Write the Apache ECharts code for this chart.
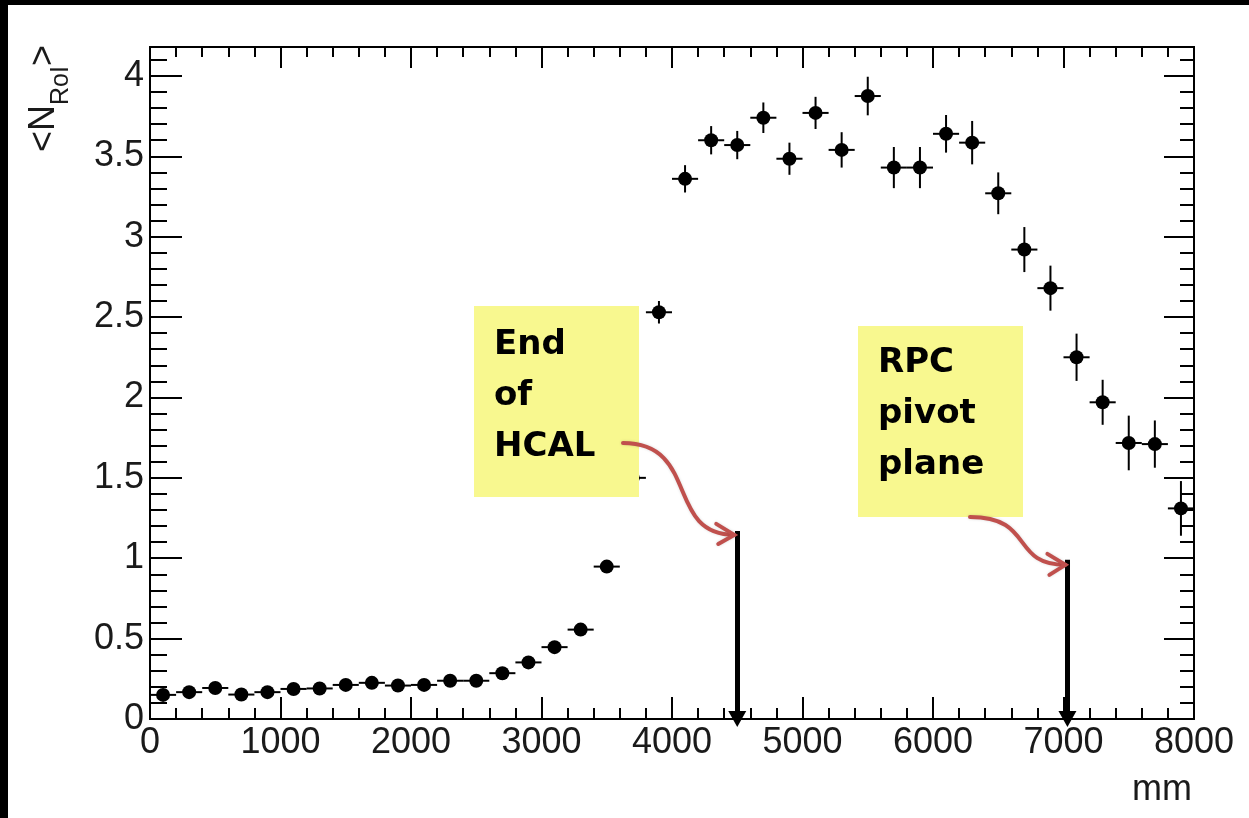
<!DOCTYPE html>
<html>
<head>
<meta charset="utf-8">
<script src="https://cdn.jsdelivr.net/npm/echarts@6/dist/echarts.min.js"></script>
<style>
  html, body { margin: 0; padding: 0; background: #fff; }
  #chart { width: 1249px; height: 818px; }
</style>
</head>
<body>
<div id="chart"></div>
<script>
// Mean number of RoIs versus depth (mm), 200 mm bins
const binCentres = [100, 300, 500, 700, 900, 1100, 1300, 1500, 1700, 1900,
                    2100, 2300, 2500, 2700, 2900, 3100, 3300, 3500, 3700, 3900,
                    4100, 4300, 4500, 4700, 4900, 5100, 5300, 5500, 5700, 5900,
                    6100, 6300, 6500, 6700, 6900, 7100, 7300, 7500, 7700, 7900];
const meanNRoI = [0.150, 0.167, 0.193, 0.152, 0.167, 0.187, 0.190, 0.212, 0.225, 0.208,
                  0.212, 0.238, 0.238, 0.285, 0.352, 0.447, 0.556, 0.948, 1.50, 2.53,
                  3.36, 3.60, 3.57, 3.74, 3.485, 3.77, 3.54, 3.875, 3.43, 3.43,
                  3.64, 3.585, 3.27, 2.92, 2.68, 2.25, 1.97, 1.717, 1.71, 1.31];
const meanErr = [0.02, 0.02, 0.02, 0.02, 0.02, 0.02, 0.02, 0.02, 0.02, 0.02,
                 0.02, 0.02, 0.02, 0.02, 0.025, 0.03, 0.03, 0.04, 0.05, 0.07,
                 0.085, 0.088, 0.088, 0.095, 0.10, 0.10, 0.11, 0.12, 0.128, 0.128,
                 0.117, 0.135, 0.13, 0.14, 0.14, 0.147, 0.14, 0.17, 0.147, 0.17];
const binHalfWidth = 100;

// Detector landmarks marked with arrows down to the axis
const landmarkX = [4500, 7030];
const landmarkTop = [1.17, 0.99];
const noteTexts = ['End\nof\nHCAL', 'RPC\npivot\nplane'];

const xTickLabels = ['0', '1000', '2000', '3000', '4000', '5000', '6000', '7000', '8000'];
const yTickLabels = ['0', '0.5', '1', '1.5', '2', '2.5', '3', '3.5', '4'];

const points = binCentres.map((x, i) => [x, meanNRoI[i], meanErr[i]]);

const FONT = '"Liberation Sans", Arial, Helvetica, sans-serif';
const INK = '#000';
const LABEL = '#1a1a1a';

function isMajor(v, step) {
  return Math.abs(v / step - Math.round(v / step)) < 1e-6;
}

function xAxisCfg(pos, major, minor, labels) {
  return {
    type: 'value', position: pos, min: 0, max: 8000, interval: 1000,
    axisLine: { show: true, onZero: false, lineStyle: { color: INK, width: 2 } },
    axisTick: { show: true, inside: true, length: major, lineStyle: { color: INK, width: 2 } },
    minorTick: { show: true, splitNumber: 5, length: minor, lineStyle: { color: INK, width: 2 } },
    splitLine: { show: false },
    axisLabel: labels ? {
      show: true, margin: 6, fontSize: 36, color: LABEL, fontFamily: FONT,
      formatter: v => xTickLabels[Math.round(v / 1000)] ?? ''
    } : { show: false }
  };
}

function yAxisCfg(pos, step, len, labels) {
  return {
    type: 'value', position: pos, min: 0, max: 4.18, interval: step,
    axisLine: { show: true, onZero: false, lineStyle: { color: INK, width: 2 } },
    axisTick: { show: true, inside: true, length: len, lineStyle: { color: INK, width: 2 } },
    splitLine: { show: false },
    axisLabel: labels ? {
      show: true, margin: 6, fontSize: 36, color: LABEL, fontFamily: FONT,
      formatter: v => isMajor(v, 0.5) ? (yTickLabels[Math.round(v / 0.5)] ?? '') : ''
    } : { show: false }
  };
}

const chart = echarts.init(document.getElementById('chart'), null, { renderer: 'canvas' });

const option = {
  animation: false,
  backgroundColor: '#fff',
  grid: { left: 150, right: 55, top: 47, bottom: 99, containLabel: false, outerBoundsMode: 'none' },
  xAxis: [
    xAxisCfg('bottom', 22, 11, true),
    xAxisCfg('top', 21, 10, false)
  ],
  yAxis: [
    yAxisCfg('left', 0.5, 32, true),
    yAxisCfg('left', 0.1, 17, false),
    yAxisCfg('right', 0.5, 30, false),
    yAxisCfg('right', 0.1, 14, false)
  ],
  series: [
    {
      // error bars: bin width in x, statistical error in y
      type: 'custom',
      xAxisIndex: 0, yAxisIndex: 0,
      encode: { x: 0, y: 1 },
      data: points,
      z: 3,
      renderItem: function (params, api) {
        const x = api.value(0), y = api.value(1), ey = api.value(2);
        const l = api.coord([x - binHalfWidth, y]);
        const r = api.coord([x + binHalfWidth, y]);
        const lo = api.coord([x, Math.max(0, y - ey)]);
        const hi = api.coord([x, y + ey]);
        const st = { stroke: INK, lineWidth: 2 };
        return {
          type: 'group',
          children: [
            { type: 'line', shape: { x1: l[0], y1: l[1], x2: r[0], y2: r[1] }, style: st },
            { type: 'line', shape: { x1: lo[0], y1: lo[1], x2: hi[0], y2: hi[1] }, style: st }
          ]
        };
      }
    },
    {
      type: 'scatter',
      xAxisIndex: 0, yAxisIndex: 0,
      data: points.map(p => [p[0], p[1]]),
      symbol: 'circle',
      symbolSize: 14,
      itemStyle: { color: INK, opacity: 1 },
      z: 4,
      markLine: {
        silent: true,
        symbol: ['none', 'triangle'],
        symbolSize: [18, 16],
        label: { show: false },
        lineStyle: { color: INK, width: 5, type: 'solid', opacity: 1 },
        data: landmarkX.map((x, i) => [
          { coord: [x, landmarkTop[i]] },
          { coord: [x, 0] }
        ])
      }
    }
  ]
};

chart.setOption(option);

// Annotations: sticky notes with curved pointers to the landmark arrows
function pointerGraphics() {
  const tip1 = chart.convertToPixel({ xAxisIndex: 0, yAxisIndex: 0 }, [landmarkX[0], landmarkTop[0]]);
  const tip2 = chart.convertToPixel({ xAxisIndex: 0, yAxisIndex: 0 }, [landmarkX[1], landmarkTop[1]]);
  const red = '#c0504d';
  const curveStyle = { stroke: red, lineWidth: 4, fill: null, lineCap: 'round',
                       shadowColor: 'rgba(0,0,0,0.15)', shadowBlur: 3 };
  const e1 = [tip1[0] - 3, tip1[1] + 4];
  const e2 = [tip2[0] - 2, tip2[1] + 5];
  return [
    { type: 'bezierCurve', z: 120,
      shape: { x1: 623, y1: 443, cpx1: 700, cpy1: 443, cpx2: 665, cpy2: e1[1], x2: e1[0], y2: e1[1] },
      style: curveStyle },
    { type: 'polyline', z: 120,
      shape: { points: [[e1[0] - 18, e1[1] - 11], e1, [e1[0] - 16, e1[1] + 9]] },
      style: curveStyle },
    { type: 'bezierCurve', z: 120,
      shape: { x1: 970, y1: 517, cpx1: 1035, cpy1: 517, cpx2: 1010, cpy2: e2[1], x2: e2[0], y2: e2[1] },
      style: curveStyle },
    { type: 'polyline', z: 120,
      shape: { points: [[e2[0] - 18, e2[1] - 11], e2, [e2[0] - 16, e2[1] + 10]] },
      style: curveStyle }
  ];
}

const noteFont = 'bold 34px "Comic Sans MS", "DejaVu Sans", sans-serif';

chart.setOption({
  graphic: [
    // slide frame edges
    { type: 'rect', z: 200, shape: { x: 0, y: 0, width: 1249, height: 5 }, style: { fill: '#000' } },
    { type: 'rect', z: 200, shape: { x: 0, y: 0, width: 8, height: 818 }, style: { fill: '#000' } },

    // y-axis title <N_RoI>, reading bottom to top
    { type: 'text', z: 50, x: 44, y: 152, rotation: Math.PI / 2,
      style: { text: '<N', font: '36px ' + FONT, fill: LABEL, align: 'left', verticalAlign: 'middle' } },
    { type: 'text', z: 50, x: 61, y: 105, rotation: Math.PI / 2,
      style: { text: 'RoI', font: '25px ' + FONT, fill: LABEL, align: 'left', verticalAlign: 'middle' } },
    { type: 'text', z: 50, x: 44, y: 66, rotation: Math.PI / 2,
      style: { text: '>', font: '36px ' + FONT, fill: LABEL, align: 'left', verticalAlign: 'middle' } },

    // x-axis title
    { type: 'text', z: 50, x: 1192, y: 790,
      style: { text: 'mm', font: '36px ' + FONT, fill: LABEL, align: 'right', verticalAlign: 'middle' } },

    // sticky notes
    { type: 'rect', z: 100, shape: { x: 474, y: 306, width: 165, height: 191 }, style: { fill: '#f8f88f' } },
    { type: 'text', z: 101, x: 494, y: 320,
      style: { text: noteTexts[0], font: noteFont, fill: '#000', lineHeight: 51, align: 'left', verticalAlign: 'top' } },
    { type: 'rect', z: 100, shape: { x: 858, y: 326, width: 165, height: 191 }, style: { fill: '#f8f88f' } },
    { type: 'text', z: 101, x: 878, y: 338,
      style: { text: noteTexts[1], font: noteFont, fill: '#000', lineHeight: 51, align: 'left', verticalAlign: 'top' } },

    ...pointerGraphics()
  ]
});
</script>
</body>
</html>
